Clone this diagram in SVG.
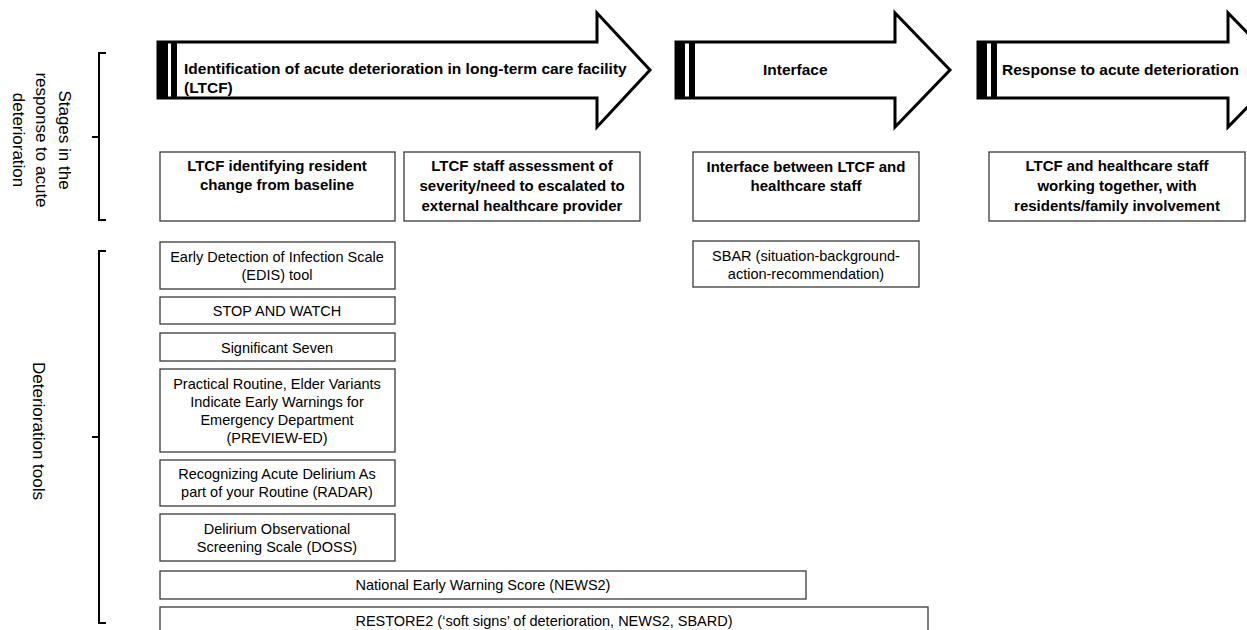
<svg xmlns="http://www.w3.org/2000/svg" width="1247" height="630" viewBox="0 0 1247 630">
<style>
.arrow{fill:#fff;stroke:#000;stroke-width:3;stroke-linejoin:miter}
.bar{fill:#000}
.box{fill:#fff;stroke:#3a3a3a;stroke-width:1.3}
.brk{fill:none;stroke:#000;stroke-width:2}
.b{font-family:"Liberation Sans",Arial,sans-serif;font-weight:bold;font-size:15px;fill:#000}
.a{font-size:15.5px}
.r{font-family:"Liberation Sans",Arial,sans-serif;font-size:14.5px;fill:#000}
.rot{font-family:"Liberation Sans",Arial,sans-serif;font-size:17px;fill:#000}
.c{text-anchor:middle}
</style>
<rect width="1247" height="630" fill="#fff"/>
<g id="brackets">
<path class="brk" d="M106,53 H99 V220 H106 M99,137 H92"/>
<path class="brk" d="M106,251 H99 V623 H106 M99,437 H92"/>
</g>
<g id="label-stages">
<text class="rot c" x="59" y="140" transform="rotate(90 59 140)">Stages in the</text>
<text class="rot c" x="36" y="140" transform="rotate(90 36 140)">response to acute</text>
<text class="rot c" x="13" y="140" transform="rotate(90 13 140)">deterioration</text>
</g>
<g id="label-tools">
<text class="rot c" x="33" y="431" transform="rotate(90 33 431)">Deterioration tools</text>
</g>
<g id="arrow1">
<path class="arrow" d="M158,42 H597 V13 L650,70 L597,127 V98 H158 Z"/>
<rect class="bar" x="157" y="42" width="11" height="56"/>
<rect class="bar" x="171" y="42" width="6" height="56"/>
<text class="b a" x="184" y="74">Identification of acute deterioration in long-term care facility</text>
<text class="b a" x="184" y="93">(LTCF)</text>
</g>
<g id="arrow2">
<path class="arrow" d="M676,42 H895 V13 L950,70 L895,127 V98 H676 Z"/>
<rect class="bar" x="675" y="42" width="10" height="56"/>
<rect class="bar" x="689" y="42" width="6" height="56"/>
<text class="b a" x="763" y="75">Interface</text>
</g>
<g id="arrow3">
<path class="arrow" d="M978,42 H1228 V13 L1284,70 L1228,127 V98 H978 Z"/>
<rect class="bar" x="977" y="42" width="10" height="56"/>
<rect class="bar" x="991" y="42" width="6" height="56"/>
<text class="b a" x="1002" y="75">Response to acute deterioration</text>
</g>
<g id="stage1">
<rect class="box" x="160" y="152" width="235" height="69"/>
<text class="b c" x="277" y="171">LTCF identifying resident</text>
<text class="b c" x="277" y="190">change from baseline</text>
</g>
<g id="stage2">
<rect class="box" x="404" y="152" width="236" height="69"/>
<text class="b c" x="522" y="171">LTCF staff assessment of</text>
<text class="b c" x="522" y="191">severity/need to escalated to</text>
<text class="b c" x="522" y="211">external healthcare provider</text>
</g>
<g id="stage3">
<rect class="box" x="693" y="152" width="226" height="69"/>
<text class="b c" x="806" y="172">Interface between LTCF and</text>
<text class="b c" x="806" y="191">healthcare staff</text>
</g>
<g id="stage4">
<rect class="box" x="989" y="152" width="256" height="69"/>
<text class="b c" x="1117" y="171">LTCF and healthcare staff</text>
<text class="b c" x="1117" y="191">working together, with</text>
<text class="b c" x="1117" y="211">residents/family involvement</text>
</g>
<g id="tool-edis">
<rect class="box" x="160" y="242" width="235" height="47"/>
<text class="r c" x="277" y="262">Early Detection of Infection Scale</text>
<text class="r c" x="277" y="280">(EDIS) tool</text>
</g>
<g id="tool-stop">
<rect class="box" x="160" y="297" width="235" height="27"/>
<text class="r c" x="277" y="316">STOP AND WATCH</text>
</g>
<g id="tool-sig7">
<rect class="box" x="160" y="333" width="235" height="28"/>
<text class="r c" x="277" y="353">Significant Seven</text>
</g>
<g id="tool-preview">
<rect class="box" x="160" y="369" width="235" height="83"/>
<text class="r c" x="277" y="389">Practical Routine, Elder Variants</text>
<text class="r c" x="277" y="407">Indicate Early Warnings for</text>
<text class="r c" x="277" y="425">Emergency Department</text>
<text class="r c" x="277" y="443">(PREVIEW-ED)</text>
</g>
<g id="tool-radar">
<rect class="box" x="160" y="460" width="235" height="46"/>
<text class="r c" x="277" y="479">Recognizing Acute Delirium As</text>
<text class="r c" x="277" y="497">part of your Routine (RADAR)</text>
</g>
<g id="tool-doss">
<rect class="box" x="160" y="514" width="235" height="47"/>
<text class="r c" x="277" y="534">Delirium Observational</text>
<text class="r c" x="277" y="552">Screening Scale (DOSS)</text>
</g>
<g id="tool-news2">
<rect class="box" x="160" y="571" width="646" height="28"/>
<text class="r c" x="483" y="590">National Early Warning Score (NEWS2)</text>
</g>
<g id="tool-restore2">
<rect class="box" x="160" y="607" width="768" height="30"/>
<text class="r c" x="544" y="626">RESTORE2 (‘soft signs’ of deterioration, NEWS2, SBARD)</text>
</g>
<g id="tool-sbar">
<rect class="box" x="693" y="241" width="226" height="46"/>
<text class="r c" x="806" y="261">SBAR (situation-background-</text>
<text class="r c" x="806" y="279">action-recommendation)</text>
</g>
<g id="connectors"></g>
</svg>
